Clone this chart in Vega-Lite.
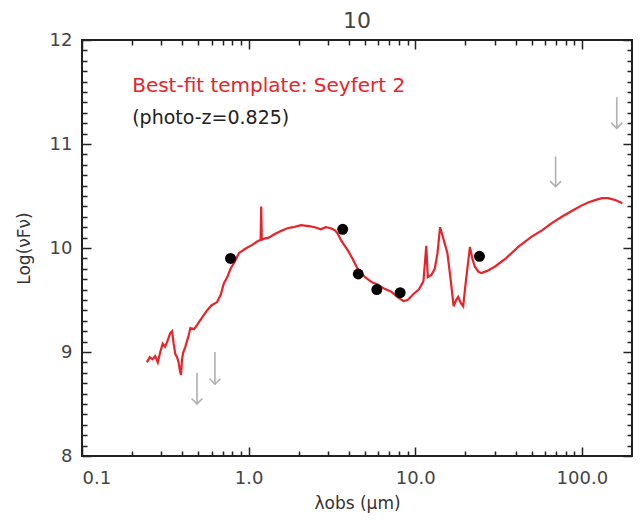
{
  "$schema": "https://vega.github.io/schema/vega-lite/v6.json",
  "width": 550,
  "height": 416,
  "autosize": {"type": "none"},
  "padding": {"left": 82, "top": 40, "right": 10, "bottom": 65},
  "background": "white",
  "title": {"text": "10", "fontSize": 22, "font": "DejaVu Sans", "fontWeight": "normal", "color": "#444", "offset": -2, "anchor": "middle"},
  "config": {
    "view": {"stroke": "#222", "strokeWidth": 2},
    "axis": {"domain": false, "ticks": false, "gridColor": "#222", "gridOpacity": 1, "gridWidth": 1.5, "labelFont": "DejaVu Sans", "labelFontSize": 18, "labelColor": "#444", "titleFont": "DejaVu Sans", "titleFontSize": 17, "titleColor": "#333", "titleFontWeight": "normal"}
  },
  "datasets": {
    "template": [
      {"lambda": 0.245, "logf": 8.90}, {"lambda": 0.255, "logf": 8.95}, {"lambda": 0.265, "logf": 8.93}, {"lambda": 0.275, "logf": 8.96},
      {"lambda": 0.285, "logf": 8.90}, {"lambda": 0.295, "logf": 9.00}, {"lambda": 0.305, "logf": 9.08}, {"lambda": 0.315, "logf": 9.05},
      {"lambda": 0.325, "logf": 9.10}, {"lambda": 0.338, "logf": 9.18}, {"lambda": 0.347, "logf": 9.20}, {"lambda": 0.355, "logf": 9.08},
      {"lambda": 0.363, "logf": 8.98}, {"lambda": 0.372, "logf": 8.95}, {"lambda": 0.380, "logf": 8.90}, {"lambda": 0.387, "logf": 8.82},
      {"lambda": 0.393, "logf": 8.78}, {"lambda": 0.398, "logf": 8.92}, {"lambda": 0.404, "logf": 8.99}, {"lambda": 0.417, "logf": 9.05},
      {"lambda": 0.435, "logf": 9.15}, {"lambda": 0.447, "logf": 9.23}, {"lambda": 0.47, "logf": 9.22}, {"lambda": 0.491, "logf": 9.26},
      {"lambda": 0.52, "logf": 9.32}, {"lambda": 0.563, "logf": 9.40}, {"lambda": 0.60, "logf": 9.45}, {"lambda": 0.647, "logf": 9.48},
      {"lambda": 0.68, "logf": 9.55}, {"lambda": 0.71, "logf": 9.66}, {"lambda": 0.745, "logf": 9.72}, {"lambda": 0.779, "logf": 9.80},
      {"lambda": 0.82, "logf": 9.86}, {"lambda": 0.874, "logf": 9.95}, {"lambda": 0.95, "logf": 9.99}, {"lambda": 1.05, "logf": 10.03},
      {"lambda": 1.12, "logf": 10.06}, {"lambda": 1.18, "logf": 10.08}, {"lambda": 1.19, "logf": 10.40}, {"lambda": 1.20, "logf": 10.08},
      {"lambda": 1.24, "logf": 10.09}, {"lambda": 1.32, "logf": 10.10}, {"lambda": 1.42, "logf": 10.13}, {"lambda": 1.55, "logf": 10.16},
      {"lambda": 1.71, "logf": 10.19}, {"lambda": 1.85, "logf": 10.20}, {"lambda": 2.06, "logf": 10.22}, {"lambda": 2.3, "logf": 10.21},
      {"lambda": 2.5, "logf": 10.20}, {"lambda": 2.71, "logf": 10.18}, {"lambda": 2.9, "logf": 10.20}, {"lambda": 3.12, "logf": 10.19},
      {"lambda": 3.3, "logf": 10.17}, {"lambda": 3.42, "logf": 10.14}, {"lambda": 3.6, "logf": 10.07}, {"lambda": 3.93, "logf": 9.98},
      {"lambda": 4.2, "logf": 9.90}, {"lambda": 4.51, "logf": 9.80}, {"lambda": 5.0, "logf": 9.72}, {"lambda": 5.5, "logf": 9.67},
      {"lambda": 5.96, "logf": 9.65}, {"lambda": 6.5, "logf": 9.61}, {"lambda": 7.17, "logf": 9.58}, {"lambda": 7.8, "logf": 9.53},
      {"lambda": 8.5, "logf": 9.49}, {"lambda": 9.0, "logf": 9.50}, {"lambda": 9.8, "logf": 9.56}, {"lambda": 10.5, "logf": 9.60},
      {"lambda": 11.2, "logf": 9.68}, {"lambda": 11.65, "logf": 10.02}, {"lambda": 11.9, "logf": 9.72}, {"lambda": 12.5, "logf": 9.74},
      {"lambda": 13.1, "logf": 9.80}, {"lambda": 13.6, "logf": 9.95}, {"lambda": 14.1, "logf": 10.20}, {"lambda": 14.7, "logf": 10.10},
      {"lambda": 15.6, "logf": 9.95}, {"lambda": 16.3, "logf": 9.70}, {"lambda": 17.0, "logf": 9.44}, {"lambda": 17.6, "logf": 9.50},
      {"lambda": 18.1, "logf": 9.53}, {"lambda": 18.8, "logf": 9.47}, {"lambda": 19.4, "logf": 9.44}, {"lambda": 20.2, "logf": 9.70},
      {"lambda": 21.3, "logf": 10.01}, {"lambda": 22.0, "logf": 9.90}, {"lambda": 22.8, "logf": 9.82}, {"lambda": 24.0, "logf": 9.77},
      {"lambda": 25, "logf": 9.76}, {"lambda": 27, "logf": 9.78}, {"lambda": 30, "logf": 9.82}, {"lambda": 35, "logf": 9.90},
      {"lambda": 41.5, "logf": 10.01}, {"lambda": 50, "logf": 10.11}, {"lambda": 57.6, "logf": 10.17}, {"lambda": 66, "logf": 10.24},
      {"lambda": 75.8, "logf": 10.30}, {"lambda": 88, "logf": 10.36}, {"lambda": 100, "logf": 10.41}, {"lambda": 110, "logf": 10.44},
      {"lambda": 120, "logf": 10.46}, {"lambda": 132, "logf": 10.48}, {"lambda": 144, "logf": 10.48}, {"lambda": 160, "logf": 10.46},
      {"lambda": 175, "logf": 10.43}
    ],
    "photometry": [
      {"lambda": 0.779, "logf": 9.90}, {"lambda": 3.67, "logf": 10.18}, {"lambda": 4.55, "logf": 9.75},
      {"lambda": 5.88, "logf": 9.60}, {"lambda": 8.12, "logf": 9.57}, {"lambda": 24.3, "logf": 9.92}
    ],
    "limits": [
      {"lambda": 0.49, "top": 8.80, "bottom": 8.50},
      {"lambda": 0.628, "top": 9.00, "bottom": 8.69},
      {"lambda": 69.6, "top": 10.88, "bottom": 10.59},
      {"lambda": 162, "top": 11.45, "bottom": 11.15}
    ],
    "label1": [{"lambda": 0.2, "logf": 11.56, "text": "Best-fit template: Seyfert 2"}],
    "label2": [{"lambda": 0.2, "logf": 11.25, "text": "(photo-z=0.825)"}]
  },
  "resolve": {"scale": {"x": "independent", "y": "independent"}, "axis": {"x": "independent", "y": "independent"}},
  "layer": [
    {
      "data": {"name": "template"},
      "mark": {"type": "line", "color": "#e8232a", "strokeWidth": 2.2},
      "encoding": {
        "x": {"field": "lambda", "type": "quantitative", "scale": {"type": "log", "domain": [0.1, 200], "nice": false},
              "axis": {"orient": "bottom", "values": [0.1, 1, 10, 100], "labelExpr": "datum.value < 0.5 ? '0.1' : format(datum.value, '.1f')", "labelPadding": 13, "title": "λobs (μm)", "titlePadding": 8, "grid": true, "gridDash": [9, 398]}},
        "y": {"field": "logf", "type": "quantitative", "scale": {"domain": [8, 12], "nice": false, "zero": false},
              "axis": {"orient": "left", "values": [8, 9, 10, 11, 12], "format": "d", "labelPadding": 10, "title": "Log(νFν)", "titlePadding": 16, "grid": true, "gridDash": [9, 532]}}
      }
    },
    {
      "data": {"name": "photometry"},
      "mark": {"type": "point", "filled": true, "color": "#000", "size": 120, "opacity": 1},
      "encoding": {
        "x": {"field": "lambda", "type": "quantitative", "scale": {"type": "log", "domain": [0.1, 200], "nice": false},
              "axis": {"orient": "top", "values": [0.2, 0.3, 0.4, 0.5, 0.6, 0.7, 0.8, 0.9, 2, 3, 4, 5, 6, 7, 8, 9, 20, 30, 40, 50, 60, 70, 80, 90], "labels": false, "title": null, "grid": true, "gridDash": [5, 406]}},
        "y": {"field": "logf", "type": "quantitative", "scale": {"domain": [8, 12], "nice": false, "zero": false},
              "axis": {"orient": "right", "values": [8.1, 8.2, 8.3, 8.4, 8.5, 8.6, 8.7, 8.8, 8.9, 9.1, 9.2, 9.3, 9.4, 9.5, 9.6, 9.7, 9.8, 9.9, 10.1, 10.2, 10.3, 10.4, 10.5, 10.6, 10.7, 10.8, 10.9, 11.1, 11.2, 11.3, 11.4, 11.5, 11.6, 11.7, 11.8, 11.9], "labels": false, "title": null, "grid": true, "gridDash": [5, 540]}}
      }
    },
    {
      "data": {"name": "limits"},
      "mark": {"type": "rule", "color": "#b0b0b0", "strokeWidth": 1.6},
      "encoding": {
        "x": {"field": "lambda", "type": "quantitative", "scale": {"type": "log", "domain": [0.1, 200], "nice": false}, "axis": null},
        "y": {"field": "top", "type": "quantitative", "scale": {"domain": [8, 12], "nice": false, "zero": false}, "axis": null},
        "y2": {"field": "bottom"}
      }
    },
    {
      "data": {"name": "limits"},
      "mark": {"type": "point", "shape": "M-1,-1L0,0L1,-1", "filled": false, "color": "#b0b0b0", "strokeWidth": 1.6, "size": 120, "opacity": 1},
      "encoding": {
        "x": {"field": "lambda", "type": "quantitative", "scale": {"type": "log", "domain": [0.1, 200], "nice": false}, "axis": null},
        "y": {"field": "bottom", "type": "quantitative", "scale": {"domain": [8, 12], "nice": false, "zero": false}, "axis": null}
      }
    },
    {
      "data": {"name": "label1"},
      "mark": {"type": "text", "align": "left", "baseline": "middle", "color": "#e8232a", "font": "DejaVu Sans", "fontSize": 20},
      "encoding": {
        "x": {"field": "lambda", "type": "quantitative", "scale": {"type": "log", "domain": [0.1, 200], "nice": false}, "axis": null},
        "y": {"field": "logf", "type": "quantitative", "scale": {"domain": [8, 12], "nice": false, "zero": false}, "axis": null},
        "text": {"field": "text"}
      }
    },
    {
      "data": {"name": "label2"},
      "mark": {"type": "text", "align": "left", "baseline": "middle", "color": "#222", "font": "DejaVu Sans", "fontSize": 19},
      "encoding": {
        "x": {"field": "lambda", "type": "quantitative", "scale": {"type": "log", "domain": [0.1, 200], "nice": false}, "axis": null},
        "y": {"field": "logf", "type": "quantitative", "scale": {"domain": [8, 12], "nice": false, "zero": false}, "axis": null},
        "text": {"field": "text"}
      }
    }
  ]
}
